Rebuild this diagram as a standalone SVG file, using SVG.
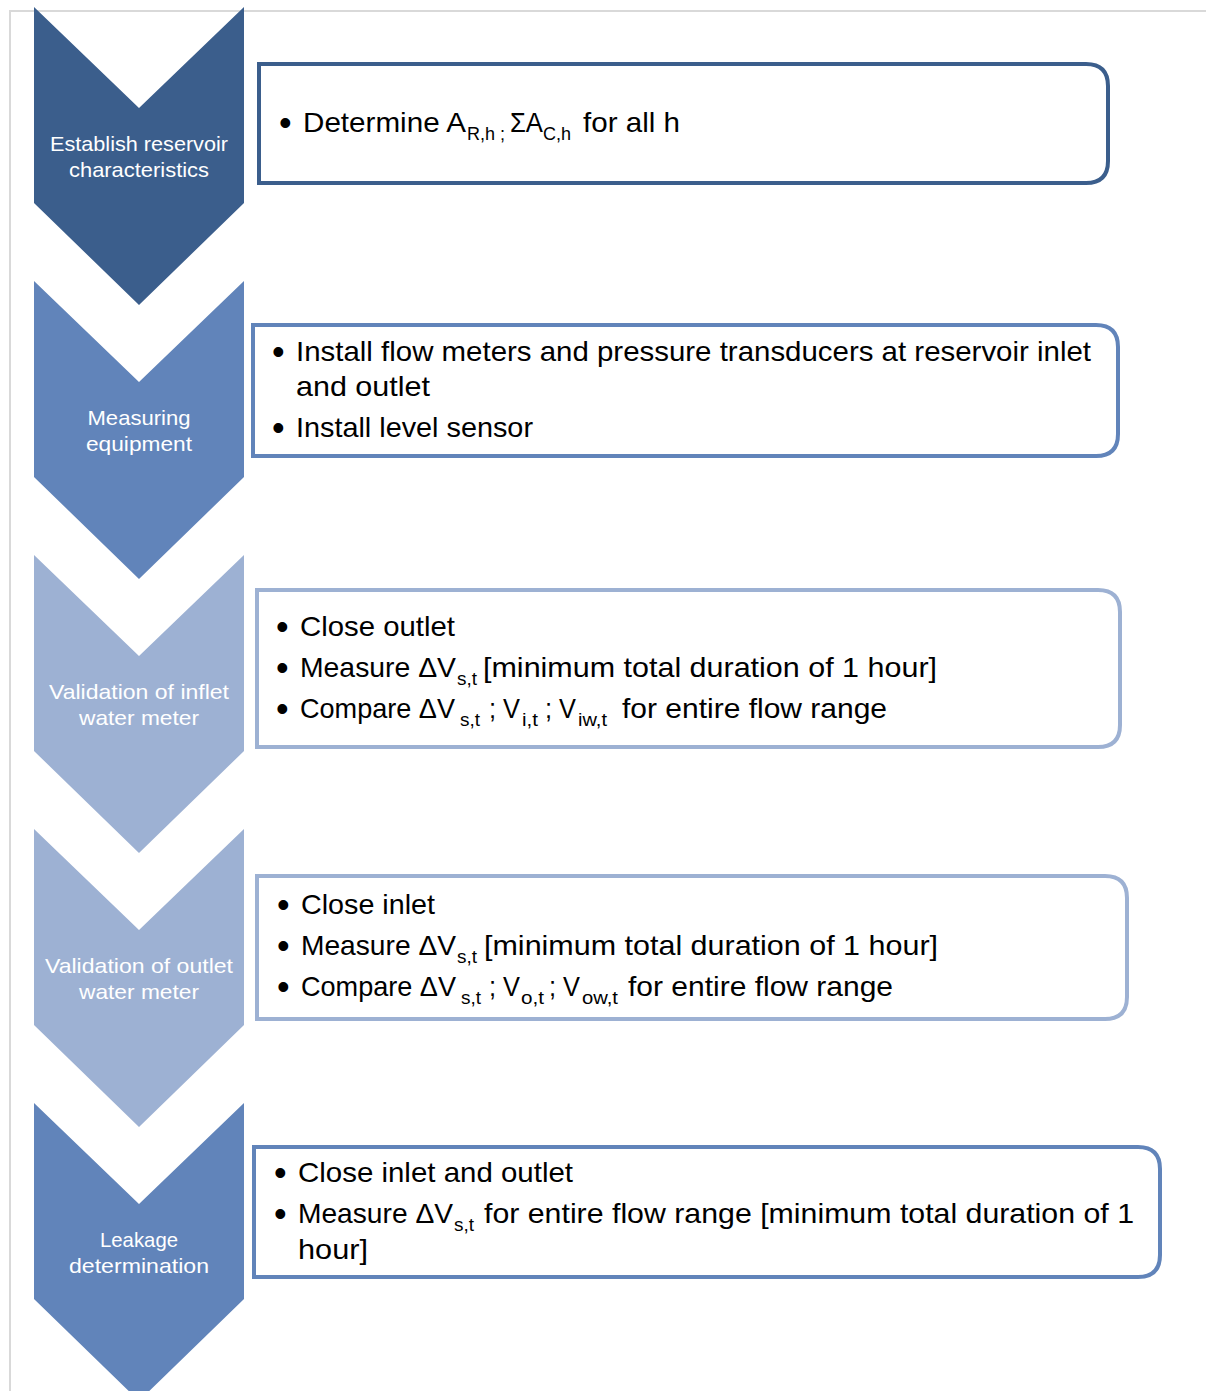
<svg xmlns="http://www.w3.org/2000/svg" width="1206" height="1391" viewBox="0 0 1206 1391">
<style>
.frame{stroke:#d9d9d9;stroke-width:2;fill:none}
.c1{fill:#3b5e8c}.c2{fill:#6184ba}.c3{fill:#9db1d3}
.b{fill:#fff;stroke-width:4}
.s1{stroke:#3b5e8c}.s2{stroke:#6184ba}.s3{stroke:#9db1d3}
.lab{font-family:"Liberation Sans",Arial,sans-serif;font-size:21px;fill:#fff;text-anchor:middle}
.t{font-family:"Liberation Sans",Arial,sans-serif;font-size:28px;fill:#000}
.bu{font-family:"Liberation Sans",Arial,sans-serif;font-size:36px;fill:#000}
.sub{font-family:"Liberation Sans",Arial,sans-serif;font-size:18px;fill:#000}
</style>
<rect width="1206" height="1391" fill="#fff"/>
<path class="frame" d="M10,1391 V11 H1206"/>
<g id="connectors"></g>
<g id="step1">
<path class="c1" d="M34,7 L139,108 L244,7 L244,203 L139,305 L34,203 Z"/>
<text class="lab" x="139" y="151" textLength="178" lengthAdjust="spacingAndGlyphs">Establish reservoir</text>
<text class="lab" x="139" y="177" textLength="140" lengthAdjust="spacingAndGlyphs">characteristics</text>
</g>
<g id="step2">
<path class="c2" d="M34,281 L139,382 L244,281 L244,477 L139,579 L34,477 Z"/>
<text class="lab" x="139" y="425" textLength="103" lengthAdjust="spacingAndGlyphs">Measuring</text>
<text class="lab" x="139" y="451" textLength="106" lengthAdjust="spacingAndGlyphs">equipment</text>
</g>
<g id="step3">
<path class="c3" d="M34,555 L139,656 L244,555 L244,751 L139,853 L34,751 Z"/>
<text class="lab" x="139" y="699" textLength="180" lengthAdjust="spacingAndGlyphs">Validation of inflet</text>
<text class="lab" x="139" y="725" textLength="120" lengthAdjust="spacingAndGlyphs">water meter</text>
</g>
<g id="step4">
<path class="c3" d="M34,829 L139,930 L244,829 L244,1025 L139,1127 L34,1025 Z"/>
<text class="lab" x="139" y="973" textLength="188" lengthAdjust="spacingAndGlyphs">Validation of outlet</text>
<text class="lab" x="139" y="999" textLength="120" lengthAdjust="spacingAndGlyphs">water meter</text>
</g>
<g id="step5">
<path class="c2" d="M34,1103 L139,1204 L244,1103 L244,1299 L139,1401 L34,1299 Z"/>
<text class="lab" x="139" y="1247" textLength="78" lengthAdjust="spacingAndGlyphs">Leakage</text>
<text class="lab" x="139" y="1273" textLength="140" lengthAdjust="spacingAndGlyphs">determination</text>
</g>
<g id="box1">
<path class="b s1" d="M259,64 H1086 Q1108,64 1108,86 V161 Q1108,183 1086,183 H259 Z"/>
<text class="bu" x="279" y="135">•</text>
<text class="t" x="303" y="132" textLength="163" lengthAdjust="spacingAndGlyphs">Determine A</text>
<text class="sub" x="467" y="140" textLength="38" lengthAdjust="spacingAndGlyphs">R,h ;</text>
<text class="t" x="510" y="132" textLength="33" lengthAdjust="spacingAndGlyphs">ΣA</text>
<text class="sub" x="543" y="140" textLength="28" lengthAdjust="spacingAndGlyphs">C,h</text>
<text class="t" x="583" y="132" textLength="97" lengthAdjust="spacingAndGlyphs">for all h</text>
</g>
<g id="box2">
<path class="b s2" d="M253,325 H1096 Q1118,325 1118,347 V434 Q1118,456 1096,456 H253 Z"/>
<text class="bu" x="272" y="364">•</text>
<text class="t" x="296" y="361" textLength="795" lengthAdjust="spacingAndGlyphs">Install flow meters and pressure transducers at reservoir inlet</text>
<text class="t" x="296" y="396" textLength="134" lengthAdjust="spacingAndGlyphs">and outlet</text>
<text class="bu" x="272" y="440">•</text>
<text class="t" x="296" y="437" textLength="237" lengthAdjust="spacingAndGlyphs">Install level sensor</text>
</g>
<g id="box3">
<path class="b s3" d="M257,590 H1098 Q1120,590 1120,612 V725 Q1120,747 1098,747 H257 Z"/>
<text class="bu" x="276" y="639">•</text>
<text class="t" x="300" y="636" textLength="155" lengthAdjust="spacingAndGlyphs">Close outlet</text>
<text class="bu" x="276" y="680">•</text>
<text class="t" x="300" y="677" textLength="156" lengthAdjust="spacingAndGlyphs">Measure ΔV</text>
<text class="sub" x="457" y="685" textLength="20" lengthAdjust="spacingAndGlyphs">s,t</text>
<text class="t" x="483" y="677" textLength="454" lengthAdjust="spacingAndGlyphs">[minimum total duration of 1 hour]</text>
<text class="bu" x="276" y="721">•</text>
<text class="t" x="300" y="718" textLength="155" lengthAdjust="spacingAndGlyphs">Compare ΔV</text>
<text class="sub" x="460" y="726" textLength="20" lengthAdjust="spacingAndGlyphs">s,t</text>
<text class="t" x="489" y="718" textLength="31" lengthAdjust="spacingAndGlyphs">; V</text>
<text class="sub" x="522" y="726" textLength="16" lengthAdjust="spacingAndGlyphs">i,t</text>
<text class="t" x="545" y="718" textLength="31" lengthAdjust="spacingAndGlyphs">; V</text>
<text class="sub" x="578" y="726" textLength="29" lengthAdjust="spacingAndGlyphs">iw,t</text>
<text class="t" x="622" y="718" textLength="265" lengthAdjust="spacingAndGlyphs">for entire flow range</text>
</g>
<g id="box4">
<path class="b s3" d="M257,876 H1105 Q1127,876 1127,898 V997 Q1127,1019 1105,1019 H257 Z"/>
<text class="bu" x="277" y="917">•</text>
<text class="t" x="301" y="914" textLength="134" lengthAdjust="spacingAndGlyphs">Close inlet</text>
<text class="bu" x="277" y="958">•</text>
<text class="t" x="301" y="955" textLength="155" lengthAdjust="spacingAndGlyphs">Measure ΔV</text>
<text class="sub" x="457" y="963" textLength="20" lengthAdjust="spacingAndGlyphs">s,t</text>
<text class="t" x="484" y="955" textLength="454" lengthAdjust="spacingAndGlyphs">[minimum total duration of 1 hour]</text>
<text class="bu" x="277" y="999">•</text>
<text class="t" x="301" y="996" textLength="155" lengthAdjust="spacingAndGlyphs">Compare ΔV</text>
<text class="sub" x="461" y="1004" textLength="20" lengthAdjust="spacingAndGlyphs">s,t</text>
<text class="t" x="489" y="996" textLength="31" lengthAdjust="spacingAndGlyphs">; V</text>
<text class="sub" x="521" y="1004" textLength="23" lengthAdjust="spacingAndGlyphs">o,t</text>
<text class="t" x="549" y="996" textLength="31" lengthAdjust="spacingAndGlyphs">; V</text>
<text class="sub" x="582" y="1004" textLength="36" lengthAdjust="spacingAndGlyphs">ow,t</text>
<text class="t" x="628" y="996" textLength="265" lengthAdjust="spacingAndGlyphs">for entire flow range</text>
</g>
<g id="box5">
<path class="b s2" d="M254,1147 H1138 Q1160,1147 1160,1169 V1255 Q1160,1277 1138,1277 H254 Z"/>
<text class="bu" x="274" y="1185">•</text>
<text class="t" x="298" y="1182" textLength="275" lengthAdjust="spacingAndGlyphs">Close inlet and outlet</text>
<text class="bu" x="274" y="1226">•</text>
<text class="t" x="298" y="1223" textLength="155" lengthAdjust="spacingAndGlyphs">Measure ΔV</text>
<text class="sub" x="454" y="1231" textLength="20" lengthAdjust="spacingAndGlyphs">s,t</text>
<text class="t" x="484" y="1223" textLength="650" lengthAdjust="spacingAndGlyphs">for entire flow range [minimum total duration of 1</text>
<text class="t" x="298" y="1259" textLength="70" lengthAdjust="spacingAndGlyphs">hour]</text>
</g>
</svg>
